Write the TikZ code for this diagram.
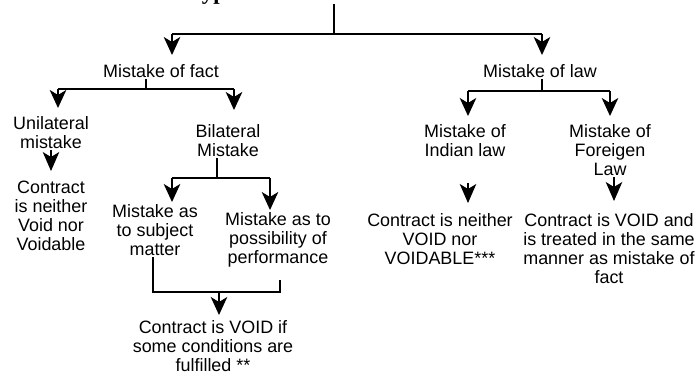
\documentclass[tikz,border=0pt]{standalone}
\usepackage{fontspec}
\setmainfont{Liberation Sans}
\newfontfamily\titlefont{Liberation Serif}
\usetikzlibrary{arrows.meta}
\tikzset{
	labelstyle/.style={align=center,inner sep=1pt,anchor=north,font=\fontsize{10.2}{10.8}\selectfont},
	linestyle/.style={line width=1.1pt},
	thinstyle/.style={line width=0.6pt},
	arrowstyle/.style={line width=1.1pt,-{Stealth[length=0.36cm,width=0.33cm,inset=0.1cm]}},
	thinarrowstyle/.style={line width=0.6pt,-{Stealth[length=0.38cm,width=0.33cm,inset=0.1cm]}}
}

\begin{document}
\begin{tikzpicture}[x=0.02cm,y=-0.02cm]
		\useasboundingbox (0,0) rectangle (699,376);
		\node[anchor=base west,inner sep=0pt,font=\titlefont\bfseries\fontsize{13}{13}\selectfont] (title) at (188,-1) {Types};
		% first level
		\node[labelstyle] (fact) at (161,62) {Mistake of fact};
		\node[labelstyle] (law) at (540,62) {Mistake of law};
		% mistake of fact
		\node[labelstyle] (uni) at (51,114) {Unilateral\\mistake};
		\node[labelstyle] (bil) at (228,122) {Bilateral\\Mistake};
		\node[labelstyle] (cuni) at (51,179) {Contract\\is neither\\Void nor\\Voidable};
		\node[labelstyle] (subj) at (155,202) {Mistake as\\to subject\\matter};
		\node[labelstyle] (perf) at (278,210) {Mistake as to\\possibility of\\performance};
		\node[labelstyle] (cvoid) at (213,318) {Contract is VOID if\\some conditions are\\fulfilled **};
		% mistake of law
		\node[labelstyle] (ind) at (465,122) {Mistake of\\Indian law};
		\node[labelstyle] (for) at (610,122) {Mistake of\\Foreigen\\Law};
		\node[labelstyle] (cind) at (440,211) {Contract is neither\\VOID nor\\VOIDABLE***};
		\node[labelstyle] (cfor) at (609,211) {Contract is VOID and\\is treated in the same\\manner as mistake of\\fact};
		% junctions
		\coordinate (root) at (334,4);
		\coordinate (jl) at (172,34);
		\coordinate (jr) at (542,34);
		\coordinate (fl) at (58,89);
		\coordinate (fm) at (146,89);
		\coordinate (fr) at (234,89);
		\coordinate (ll) at (468,91);
		\coordinate (lm) at (542,91);
		\coordinate (lr) at (610,91);
		\coordinate (fa) at (614,91);
		\coordinate (bl) at (172,178);
		\coordinate (bm) at (217,178);
		\coordinate (br) at (270,178);
		\coordinate (kl) at (153,292);
		\coordinate (km) at (219,292);
		\coordinate (kr) at (280,292);
		\coordinate (ktop) at (280,280);
		% connectors
		\draw[thinstyle] (root)--(root|-jl);
		\draw[linestyle] (jl)--(jr);
		\draw[arrowstyle,shorten >=0.14cm] (jl)--(jl|-fact.north);
		\draw[arrowstyle,shorten >=0.14cm] (jr)--(jr|-law.north);
		\draw[linestyle] (fm|-fact.south)--(fm);
		\draw[linestyle] (fl)--(fr);
		\draw[arrowstyle,shorten >=0.12cm] (fl)--(fl|-uni.north);
		\draw[arrowstyle,shorten >=0.24cm] (fr)--(fr|-bil.north);
		\draw[thinarrowstyle,shorten >=0.16cm] (uni)--(cuni);
		\draw[linestyle] (bm|-bil.south)--(bm);
		\draw[linestyle] (bl)--(br);
		\draw[arrowstyle] (bl)--(bl|-subj.north);
		\draw[arrowstyle] (br)--(br|-perf.north);
		\draw[linestyle] (kl|-subj.south)--(kl)--(kr)--(ktop);
		\draw[arrowstyle,shorten >=0.06cm] (km)--(km|-cvoid.north);
		\draw[thinstyle] (lm|-law.south)--(lm);
		\draw[linestyle] (ll)--(lr);
		\draw[arrowstyle,shorten >=0.12cm] (ll)--(ll|-ind.north);
		\draw[arrowstyle,shorten >=0.12cm] (lr)--(lr|-for.north);
		\draw[thinarrowstyle,shorten >=0.16cm,shorten <=0.5cm] (ind.south-|ll)--(ll|-cind.north);
		\draw[thinarrowstyle,shorten >=0.2cm] (for.south-|fa)--(fa|-cfor.north);
\end{tikzpicture}
\end{document}
